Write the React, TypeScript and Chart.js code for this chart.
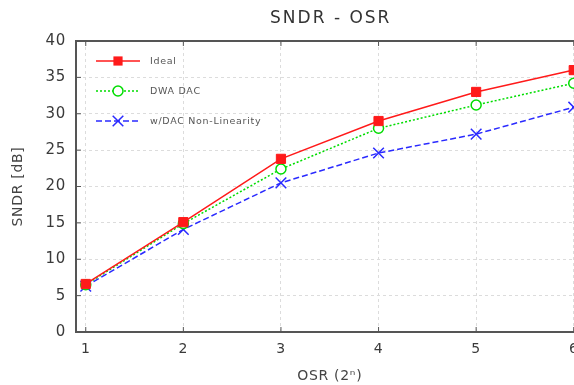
import React, { useEffect, useRef } from "react";
import { Chart, registerables } from "chart.js";

Chart.register(...registerables);

const osr = [1, 2, 3, 4, 5, 6];
const ideal = [6.6, 15.1, 23.8, 29.0, 33.0, 36.0];
const dwaDac = [6.5, 14.9, 22.4, 28.0, 31.2, 34.2];
const dacNonLin = [6.3, 14.1, 20.5, 24.6, 27.2, 30.9];
const seriesNames = ["Ideal", "DWA DAC", "w/DAC Non-Linearity"];
const yTicks = [0, 5, 10, 15, 20, 25, 30, 35, 40];
const chartTitle = "SNDR - OSR";

const FONT = "'DejaVu Sans', sans-serif";

function drawMarker(ctx: CanvasRenderingContext2D, style: string, x: number, y: number, r: number, color: string) {
  ctx.save();
  ctx.setLineDash([]);
  ctx.strokeStyle = color;
  ctx.fillStyle = color;
  ctx.lineWidth = 1.5;
  ctx.beginPath();
  if (style === "rect") {
    const s = r * Math.SQRT1_2;
    ctx.rect(x - s, y - s, 2 * s, 2 * s);
    ctx.fill();
  } else if (style === "circle") {
    ctx.arc(x, y, r, 0, Math.PI * 2);
    ctx.fillStyle = "#fff";
    ctx.fill();
    ctx.stroke();
  } else {
    const s = r * Math.SQRT1_2;
    ctx.moveTo(x - s, y - s);
    ctx.lineTo(x + s, y + s);
    ctx.moveTo(x - s, y + s);
    ctx.lineTo(x + s, y - s);
    ctx.stroke();
  }
  ctx.restore();
}

const framePlugin = {
  id: "framePlugin",
  beforeDraw(chart: any) {
    (chart.ctx as any).letterSpacing = "0.7px";
  },
  afterDraw(chart: any) {
    const ctx = chart.ctx as CanvasRenderingContext2D;
    const { left, right, top, bottom } = chart.chartArea;
    const xs = chart.scales.x;
    const ys = chart.scales.y;
    ctx.save();
    // title
    (ctx as any).letterSpacing = "2px";
    ctx.font = `17px ${FONT}`;
    ctx.fillStyle = "#333";
    ctx.textAlign = "center";
    ctx.textBaseline = "middle";
    ctx.fillText(chartTitle, (left + right) / 2 + 1, 19);
    (ctx as any).letterSpacing = "0.7px";
    // top border
    ctx.strokeStyle = "#555";
    ctx.lineWidth = 2;
    ctx.beginPath();
    ctx.moveTo(left, top);
    ctx.lineTo(right, top);
    ctx.stroke();
    // inward ticks
    ctx.lineWidth = 1;
    ctx.beginPath();
    osr.forEach((v) => {
      const px = xs.getPixelForValue(v);
      ctx.moveTo(px, bottom);
      ctx.lineTo(px, bottom - 5);
      ctx.moveTo(px, top);
      ctx.lineTo(px, top + 5);
    });
    yTicks.forEach((v) => {
      const py = ys.getPixelForValue(v);
      ctx.moveTo(left, py);
      ctx.lineTo(left + 5, py);
    });
    ctx.stroke();

    // legend
    const lx0 = left + 20;
    const lx1 = left + 64;
    const tx = left + 74;
    const y0 = top + 20;
    const gap = 30;
    ctx.font = `9.5px ${FONT}`;
    ctx.textBaseline = "middle";
    ctx.textAlign = "left";
    chart.data.datasets.forEach((ds: any, i: number) => {
      const y = y0 + i * gap;
      ctx.save();
      ctx.strokeStyle = ds.borderColor;
      ctx.lineWidth = ds.borderWidth;
      ctx.setLineDash(ds.borderDash || []);
      ctx.beginPath();
      ctx.moveTo(lx0, y);
      ctx.lineTo(lx1, y);
      ctx.stroke();
      ctx.restore();
      drawMarker(ctx, ds.pointStyle, (lx0 + lx1) / 2, y, ds.pointRadius, ds.borderColor);
      ctx.fillStyle = "#555";
      ctx.fillText(ds.label, tx, y + 1);
    });
    ctx.restore();
  },
};

export default function App() {
  const ref = useRef<HTMLCanvasElement>(null);
  useEffect(() => {
    if (!ref.current) return;
    const mk = (d: number[]) => osr.map((x, i) => ({ x, y: d[i] }));
    const chart = new Chart(ref.current, {
      type: "line",
      data: {
        datasets: [
          {
            label: seriesNames[0],
            data: mk(ideal),
            borderColor: "#ff1a1a",
            backgroundColor: "#ff1a1a",
            borderWidth: 1.5,
            pointStyle: "rect",
            pointRadius: 6.5,
            pointBorderWidth: 1,
          },
          {
            label: seriesNames[1],
            data: mk(dwaDac),
            borderColor: "#00dd00",
            backgroundColor: "#ffffff",
            borderWidth: 1.5,
            borderDash: [2, 2],
            pointStyle: "circle",
            pointRadius: 5,
            pointBorderWidth: 1.5,
          },
          {
            label: seriesNames[2],
            data: mk(dacNonLin),
            borderColor: "#2a2aff",
            backgroundColor: "#2a2aff",
            borderWidth: 1.5,
            borderDash: [6, 3],
            pointStyle: "crossRot",
            pointRadius: 7.5,
            pointBorderWidth: 1.5,
          },
        ] as any,
      },
      options: {
        animation: false,
        responsive: false,
        maintainAspectRatio: false,
        layout: { padding: { left: 0, right: 16.5, top: 41, bottom: 0 } },
        plugins: {
          legend: { display: false },
          tooltip: { enabled: false },
          title: { display: false },
        },
        scales: {
          x: {
            type: "linear",
            min: 0.9,
            max: 6.1,
            afterBuildTicks: (s: any) => {
              s.ticks = osr.map((v) => ({ value: v }));
            },
            afterFit: (s: any) => {
              s.height = 53;
            },
            ticks: {
              color: "#3a3a3a",
              padding: 9,
              font: { family: FONT, size: 14 },
              callback: (v: any) => String(v),
              maxRotation: 0,
            },
            grid: { color: "#dcdcdc", drawTicks: false, lineWidth: 1 },
            border: { display: true, color: "#555", width: 2, dash: [3, 3] },
            title: {
              display: true,
              text: "OSR (2ⁿ)",
              color: "#444",
              font: { family: FONT, size: 14 },
              padding: { top: 0, bottom: 0 },
            },
          },
          y: {
            type: "linear",
            min: 0,
            max: 40,
            afterBuildTicks: (s: any) => {
              s.ticks = yTicks.map((v) => ({ value: v }));
            },
            afterFit: (s: any) => {
              s.width = 76;
            },
            ticks: {
              color: "#3a3a3a",
              padding: 10,
              font: { family: FONT, size: 15 },
            },
            grid: { color: "#dcdcdc", drawTicks: false, lineWidth: 1 },
            border: { display: true, color: "#555", width: 2, dash: [3, 3] },
            title: {
              display: true,
              text: "SNDR [dB]",
              color: "#444",
              font: { family: FONT, size: 14 },
              padding: { top: 10, bottom: 0 },
            },
          },
        },
      },
      plugins: [framePlugin],
    });
    return () => chart.destroy();
  }, []);
  return (
    <div
      style={{
        position: "fixed",
        left: 0,
        top: 0,
        width: 574,
        height: 385,
        overflow: "hidden",
        background: "#fff",
      }}
    >
      <canvas ref={ref} width={600} height={385} style={{ display: "block" }} />
    </div>
  );
}
